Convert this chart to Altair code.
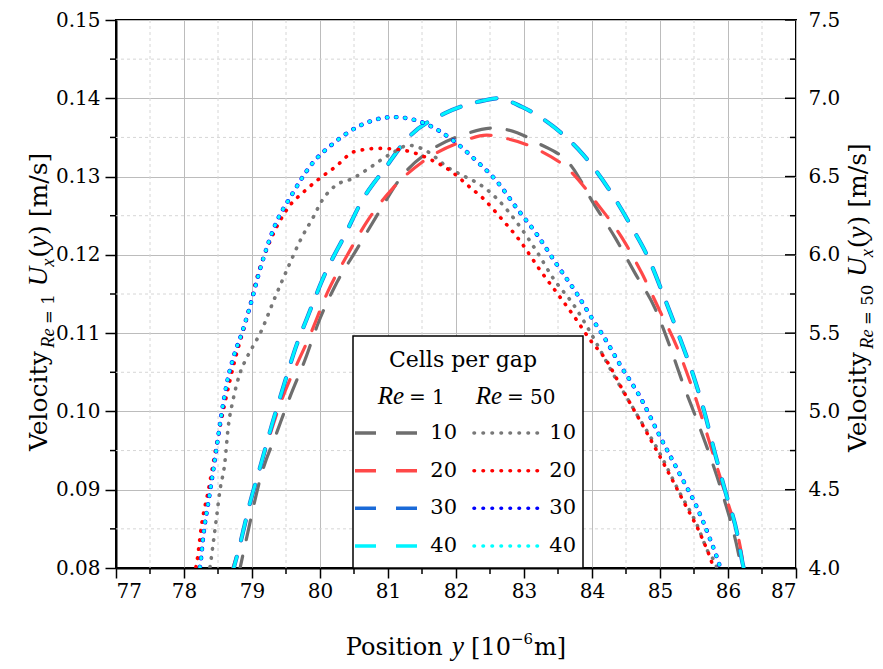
import altair as alt
import pandas as pd

# ---------------- data ----------------
cells = ["10", "20", "30", "40"]

x_ticks = [77, 78, 79, 80, 81, 82, 83, 84, 85, 86, 87]
x_minor = [77.5, 78.5, 79.5, 80.5, 81.5, 82.5, 83.5, 84.5, 85.5, 86.5]
yl_ticks = [0.08, 0.09, 0.10, 0.11, 0.12, 0.13, 0.14, 0.15]
yl_minor = [0.085, 0.095, 0.105, 0.115, 0.125, 0.135, 0.145]
yr_ticks = [4.0, 4.5, 5.0, 5.5, 6.0, 6.5, 7.0, 7.5]

# Re = 1 (left axis), dashed
re1_10_x = [78.80, 78.90, 79.14, 79.36, 79.56, 79.78, 79.97, 80.22, 80.54, 80.85, 81.20, 81.62, 82.16, 82.55,
            82.90, 83.20, 83.70, 84.02, 84.34, 84.63, 84.93, 85.15, 85.34, 85.56, 85.76, 85.95, 86.12, 86.22]
re1_10_y = [0.0790, 0.0830, 0.0920, 0.0972, 0.1019, 0.1066, 0.1112, 0.1160, 0.1207, 0.1252, 0.1300, 0.1333,
            0.1355, 0.1362, 0.1356, 0.1343, 0.1313, 0.1266, 0.1222, 0.1177, 0.1131, 0.1082, 0.1035, 0.0985,
            0.0937, 0.0886, 0.0832, 0.0790]
re1_20_x = [78.68, 78.72, 79.04, 79.38, 79.88, 80.12, 80.41, 80.71, 81.07, 81.51, 82.10, 82.45, 82.67, 83.19,
            83.68, 84.07, 84.44, 84.73, 85.00, 85.25, 85.47, 85.66, 85.81, 86.00, 86.18, 86.25]
re1_20_y = [0.0790, 0.0800, 0.0904, 0.1001, 0.1103, 0.1154, 0.1201, 0.1245, 0.1285, 0.1319, 0.1345, 0.1353,
            0.1350, 0.1335, 0.1307, 0.1266, 0.1222, 0.1177, 0.1128, 0.1082, 0.1031, 0.0980, 0.0937, 0.0883,
            0.0827, 0.0790]
re1_30_x = [78.70, 78.82, 78.97, 79.12, 79.29, 79.46, 79.66, 79.80, 80.07, 80.37, 80.61, 80.96, 81.29, 81.84,
            82.40, 82.60, 82.97, 83.43, 83.87, 84.24, 84.56, 84.85, 85.07, 85.29, 85.49, 85.66, 85.81, 85.97,
            86.13, 86.22, 86.26]
re1_30_y = [0.0790, 0.0829, 0.0883, 0.0929, 0.0982, 0.1031, 0.1086, 0.1117, 0.1175, 0.1226, 0.1268, 0.1311,
            0.1349, 0.1381, 0.1397, 0.1400, 0.1389, 0.1364, 0.1328, 0.1285, 0.1239, 0.1192, 0.1144, 0.1094,
            0.1046, 0.0997, 0.0946, 0.0895, 0.0846, 0.0804, 0.0790]
re1_40_x = [78.70, 78.82, 78.97, 79.12, 79.29, 79.46, 79.66, 79.80, 80.07, 80.37, 80.61, 80.96, 81.29, 81.84,
            82.40, 82.60, 82.97, 83.43, 83.87, 84.24, 84.56, 84.85, 85.07, 85.29, 85.49, 85.66, 85.81, 85.97,
            86.13, 86.22, 86.26]
re1_40_y = [0.0790, 0.0829, 0.0883, 0.0929, 0.0982, 0.1031, 0.1086, 0.1117, 0.1175, 0.1226, 0.1268, 0.1311,
            0.1349, 0.1381, 0.1397, 0.1400, 0.1389, 0.1364, 0.1328, 0.1285, 0.1239, 0.1192, 0.1144, 0.1094,
            0.1046, 0.0997, 0.0946, 0.0895, 0.0846, 0.0804, 0.0790]

# Re = 50 (right axis), dotted
re50_10_x = [78.36, 78.38, 78.43, 78.48, 78.53, 78.60, 78.65, 78.72, 78.82, 78.92, 79.02, 79.11, 79.34, 79.53,
             79.73, 79.90, 80.02, 80.22, 80.49, 80.71, 80.91, 81.10, 81.30, 81.54, 81.91, 82.13, 82.35, 82.60,
             82.89, 83.19, 83.43, 83.73, 83.97, 84.31, 84.66, 84.95, 85.29, 85.54, 85.71, 85.83, 85.86]
re50_10_y = [3.95, 4.00, 4.16, 4.33, 4.50, 4.67, 4.90, 5.07, 5.24, 5.34, 5.42, 5.49, 5.73, 5.92, 6.11, 6.24,
             6.34, 6.44, 6.49, 6.55, 6.61, 6.66, 6.70, 6.67, 6.55, 6.50, 6.45, 6.36, 6.21, 6.02, 5.85, 5.68,
             5.51, 5.24, 4.98, 4.77, 4.48, 4.28, 4.10, 4.01, 3.95]
re50_20_x = [78.15, 78.19, 78.26, 78.36, 78.45, 78.60, 78.75, 78.92, 79.09, 79.31, 79.53, 79.78, 80.00, 80.22,
             80.51, 80.86, 81.20, 81.62, 81.94, 82.21, 82.40, 82.65, 82.94, 83.24, 83.53, 83.78, 83.95, 84.22,
             84.46, 84.76, 85.05, 85.34, 85.61, 85.78, 85.82]
re50_20_y = [3.95, 4.04, 4.28, 4.50, 4.72, 5.05, 5.33, 5.59, 5.88, 6.13, 6.30, 6.41, 6.49, 6.56, 6.66, 6.68,
             6.67, 6.61, 6.53, 6.43, 6.36, 6.24, 6.09, 5.90, 5.73, 5.58, 5.47, 5.32, 5.13, 4.90, 4.67, 4.43,
             4.20, 4.01, 3.95]
re50_30_x = [78.20, 78.24, 78.28, 78.38, 78.48, 78.55, 78.63, 78.73, 78.85, 78.95, 79.14, 79.34, 79.58, 79.88,
             80.22, 80.61, 81.08, 81.54, 81.96, 82.30, 82.60, 82.89, 83.19, 83.48, 83.78, 84.02, 84.17, 84.41,
             84.71, 85.00, 85.29, 85.54, 85.74, 85.88, 85.92]
re50_30_y = [3.95, 4.02, 4.19, 4.48, 4.77, 4.98, 5.18, 5.35, 5.50, 5.64, 5.94, 6.19, 6.38, 6.58, 6.72, 6.83,
             6.88, 6.84, 6.73, 6.60, 6.47, 6.30, 6.13, 5.94, 5.75, 5.58, 5.48, 5.30, 5.09, 4.84, 4.60, 4.39,
             4.18, 4.01, 3.95]
re50_40_x = list(re50_30_x)
re50_40_y = list(re50_30_y)

re1_series = [re1_10_x, re1_20_x, re1_30_x, re1_40_x]
re1_values = [re1_10_y, re1_20_y, re1_30_y, re1_40_y]
re50_series = [re50_10_x, re50_20_x, re50_30_x, re50_40_x]
re50_values = [re50_10_y, re50_20_y, re50_30_y, re50_40_y]

# ---------------- style ----------------
FONT = "DejaVu Serif"
IT_FONT = "Liberation Serif"
re1_colors = ["#6e6e6e", "#ff4848", "#1a6ad8", "#00f4ff"]
re1_widths = [3.2, 3.2, 4.2, 3.0]
re50_colors = ["#787878", "#ff0000", "#0000ff", "#00ffff"]
re50_widths = [3.6, 3.6, 4.4, 3.4]
DASH = [20, 17]
DOT = [0.5, 8.5]
LAB = 20

W, H = 680, 548

x_scale = alt.Scale(domain=[77, 87], nice=False, zero=False)
l_scale = alt.Scale(domain=[0.08, 0.15], nice=False, zero=False)
r_scale = alt.Scale(domain=[4.0, 7.5], nice=False, zero=False)

x_axis = alt.Axis(values=x_ticks, format="d", tickSize=10, tickWidth=1.5, tickColor="black",
                  domainColor="black", domainWidth=2, labelFont=FONT, labelFontSize=LAB,
                  labelColor="black", labelPadding=3, grid=True, gridColor="#bcbcbc", gridWidth=1,
                  title=None)
l_axis = alt.Axis(values=yl_ticks, format=".2f", tickSize=11, tickWidth=1.5, tickColor="black",
                  domainColor="black", domainWidth=2, labelFont=FONT, labelFontSize=LAB,
                  labelColor="black", labelPadding=5, grid=True, gridColor="#bcbcbc", gridWidth=1,
                  title=None)
r_axis = alt.Axis(values=yr_ticks, format=".1f", orient="right", ticks=False, domain=False,
                  offset=12, labelFont=FONT, labelFontSize=LAB,
                  labelColor="black", labelPadding=0, grid=False, title=None)

X = alt.X("x:Q", scale=x_scale, axis=x_axis)
YL = alt.Y("y:Q", scale=l_scale, axis=l_axis)
YR = alt.Y("y:Q", scale=r_scale, axis=r_axis)

# ---------------- left group (Re = 1) ----------------
left_layers = []
left_layers.append(alt.Chart(pd.DataFrame({"x": x_minor})).mark_rule(
    color="#d6d6d6", strokeWidth=1, strokeDash=[3, 3]).encode(x=X))
left_layers.append(alt.Chart(pd.DataFrame({"y": yl_minor})).mark_rule(
    color="#d6d6d6", strokeWidth=1, strokeDash=[3, 3]).encode(y=YL))

for i, name in enumerate(cells):
    df = pd.DataFrame({"x": re1_series[i], "y": re1_values[i]})
    left_layers.append(alt.Chart(df).mark_line(
        color=re1_colors[i], strokeWidth=re1_widths[i], strokeDash=DASH, strokeCap="round",
        interpolate="monotone", clip=True).encode(x=X, y=YL))

# minor ticks (left outward, bottom outward) and right inward ticks
left_layers.append(alt.Chart(pd.DataFrame({"y": yl_minor})).mark_rule(
    color="black", strokeWidth=1.5).encode(y=YL, x=alt.value(0), x2=alt.value(-6)))
left_layers.append(alt.Chart(pd.DataFrame({"x": x_minor})).mark_rule(
    color="black", strokeWidth=1.5).encode(x=X, y=alt.value(H), y2=alt.value(H + 6)))
left_layers.append(alt.Chart(pd.DataFrame({"y": yl_ticks})).mark_rule(
    color="black", strokeWidth=1.5).encode(y=YL, x=alt.value(W), x2=alt.value(W - 11)))
left_layers.append(alt.Chart(pd.DataFrame({"y": yl_minor})).mark_rule(
    color="black", strokeWidth=1.5).encode(y=YL, x=alt.value(W), x2=alt.value(W - 6)))

left_group = alt.layer(*left_layers)

# ---------------- right group (Re = 50) ----------------
right_layers = []
for i, name in enumerate(cells):
    df = pd.DataFrame({"x": re50_series[i], "y": re50_values[i]})
    right_layers.append(alt.Chart(df).mark_line(
        color=re50_colors[i], strokeWidth=re50_widths[i], strokeDash=DOT, strokeCap="round",
        interpolate="monotone", clip=True).encode(x=X, y=YR))

one = alt.Data(values=[{"a": 1}])


def txt(s, x, y, size, italic=False, align="left", baseline="alphabetic", angle=0):
    kw = dict(font=IT_FONT if italic else FONT, fontSize=size, color="black", align=align,
              baseline=baseline)
    if italic:
        kw["fontStyle"] = "italic"
    if angle:
        kw["angle"] = angle
    return alt.Chart(one).mark_text(**kw).encode(x=alt.value(x), y=alt.value(y), text=alt.value(s))


# legend box
LX0, LX1, LY0, LY1 = 237, 467, 316, H
right_layers.append(alt.Chart(one).mark_rect(fill="white", stroke="black", strokeWidth=1.5).encode(
    x=alt.value(LX0), x2=alt.value(LX1), y=alt.value(LY0), y2=alt.value(LY1)))
right_layers.append(txt("Cells per gap", 347, 347, 22, align="center"))
right_layers.append(txt("Re", 288, 384, 25, italic=True, align="right"))
right_layers.append(txt("= 1", 293, 384, 20))
right_layers.append(txt("Re", 386, 384, 25, italic=True, align="right"))
right_layers.append(txt("= 50", 391, 384, 20))
row_y = [413, 450.7, 488.3, 526]
for i, name in enumerate(cells):
    yy = row_y[i]
    right_layers.append(alt.Chart(one).mark_rule(
        color=re1_colors[i], strokeWidth=3.5, strokeDash=[21, 20]).encode(
        x=alt.value(239), x2=alt.value(301), y=alt.value(yy)))
    right_layers.append(txt(name, 341, yy, 21, align="right", baseline="middle"))
    right_layers.append(alt.Chart(one).mark_rule(
        color=re50_colors[i], strokeWidth=3.6, strokeDash=DOT, strokeCap="round").encode(
        x=alt.value(358), x2=alt.value(427), y=alt.value(yy)))
    right_layers.append(txt(name, 460, yy, 21, align="right", baseline="middle"))

# ---------------- axis titles (rich text built from pieces) ----------------
# advance widths (per 1000 em): DejaVu Serif regular, Liberation Serif italic
W_REG = {" ": 318, "(": 390, ")": 390, "[": 390, "]": 390, "/": 337, "=": 838, "\u2212": 838,
         "V": 722, "e": 592, "l": 320, "o": 602, "c": 560, "i": 320, "t": 402, "y": 565,
         "m": 948, "s": 513, "P": 733, "n": 644}
W_IT = {"R": 611, "e": 444, "U": 722, "x": 444, "y": 444}


def tw(s, size, italic=False):
    if italic:
        return sum(W_IT.get(ch, 500) for ch in s) * size / 1000.0
    return sum(W_REG.get(ch, 636) for ch in s) * size / 1000.0


def layout(pieces):
    cur = 0.0
    out = []
    for text, size, it, shift, gap in pieces:
        cur += gap
        out.append((text, size, it, shift, cur))
        cur += tw(text, size, it)
    return out, cur


def vtitle(sub, base_x, start):
    pieces = [("Velocity", 25, False, 0, 0), ("Re", 18.5, True, 6.5, 1), ("= " + sub, 16.5, False, 6.5, 4.5),
              ("U", 27, True, 0, 8), ("x", 18.5, True, 6.5, 0), ("(", 25, False, 0, 1),
              ("y", 27, True, 0, 0), (")", 25, False, 0, 1), ("[m/s]", 25, False, 0, 8)]
    placed, total = layout(pieces)
    return [txt(t, base_x + sh, start - off, sz, italic=it, angle=270) for t, sz, it, sh, off in placed]


right_layers += vtitle("1", -69, 431)
right_layers += vtitle("50", 750, 432)

bt_pieces = [("Position", 24, False, 0, 0), ("y", 27, True, 0, 7), ("[10", 24, False, 0, 7),
             ("\u22126", 15, False, -11, 0), ("m]", 24, False, 0, 1)]
bt_placed, bt_total = layout(bt_pieces)
bt_start = W / 2 - bt_total / 2
for t, sz, it, sh, off in bt_placed:
    right_layers.append(txt(t, bt_start + off, 635 + sh, sz, italic=it))

right_group = alt.layer(*right_layers)

chart = alt.layer(left_group, right_group).resolve_scale(y="independent").properties(
    width=W, height=H,
    autosize=alt.AutoSizeParams(type="none"),
    padding={"left": 108, "top": 12, "right": 79, "bottom": 93},
    background="white",
).configure_view(stroke="black", strokeWidth=2)

chart.save("out.html", embed_options={"renderer": "svg", "actions": False})
